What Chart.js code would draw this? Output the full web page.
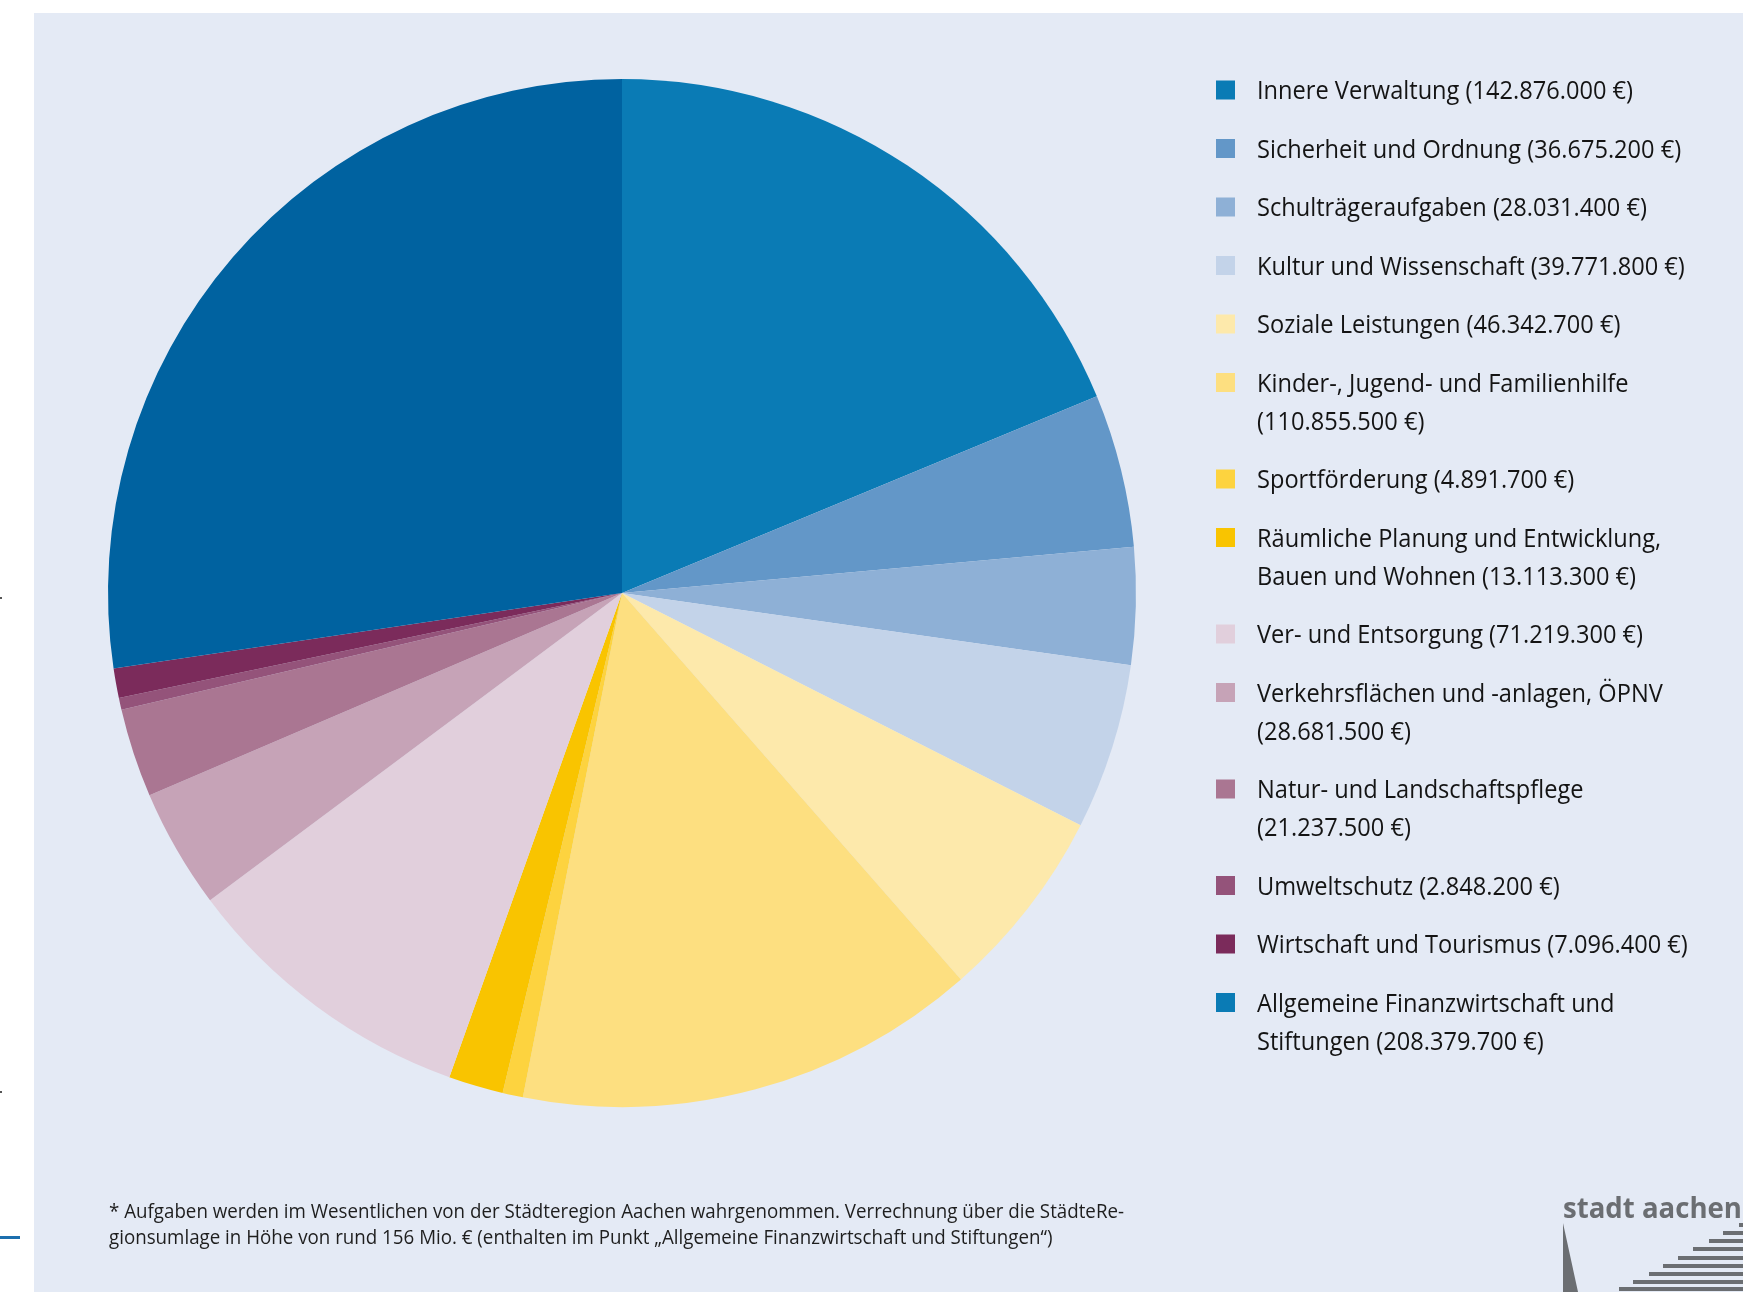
<!DOCTYPE html>
<html>
<head>
<meta charset="utf-8">
<style>
  html, body { margin: 0; padding: 0; background: #ffffff; }
  #wrap { width: 1763px; height: 1292px; }
</style>
</head>
<body>
<div id="wrap"><canvas id="budgetPie" width="1763" height="1292"></canvas></div>
<script src="https://cdn.jsdelivr.net/npm/chart.js@4.4.0/dist/chart.umd.min.js"></script>
<script>
  // chart data
  const categories = [
    ["Innere Verwaltung"],
    ["Sicherheit und Ordnung"],
    ["Schulträgeraufgaben"],
    ["Kultur und Wissenschaft"],
    ["Soziale Leistungen"],
    ["Kinder-, Jugend- und Familienhilfe", ""],
    ["Sportförderung"],
    ["Räumliche Planung und Entwicklung,", "Bauen und Wohnen"],
    ["Ver- und Entsorgung"],
    ["Verkehrsflächen und -anlagen, ÖPNV", ""],
    ["Natur- und Landschaftspflege", ""],
    ["Umweltschutz"],
    ["Wirtschaft und Tourismus"],
    ["Allgemeine Finanzwirtschaft und", "Stiftungen"],
  ];
  const amounts = [
    142876000, 36675200, 28031400, 39771800, 46342700, 110855500, 4891700,
    13113300, 71219300, 28681500, 21237500, 2848200, 7096400, 208379700,
  ];

  // colours
  const sliceColors = [
    "#0a7bb5", "#6397c8", "#8eb0d6", "#c3d3e9", "#fde9ab", "#fddf80", "#fdd33f",
    "#f9c400", "#e1cfdc", "#c6a3b7", "#aa7692", "#94537a", "#7b2b5b", "#0062a0",
  ];
  const legendColors = sliceColors.slice(0, 13).concat(["#0a7bb5"]);

  const footnote = [
    "* Aufgaben werden im Wesentlichen von der Städteregion Aachen wahrgenommen. Verrechnung über die StädteRe-",
    "gionsumlage in Höhe von rund 156 Mio. € (enthalten im Punkt „Allgemeine Finanzwirtschaft und Stiftungen“)",
  ];

  const panelColor = "#e4eaf5";
  const textFont = "'Open Sans', 'Noto Sans', sans-serif";

  function euro(n) {
    return "(" + String(n).replace(/\B(?=(\d{3})+(?!\d))/g, ".") + " €)";
  }

  function legendLines(i) {
    let lines = categories[i].slice();
    let last = lines.length - 1;
    lines[last] = (lines[last] ? lines[last] + " " : "") + euro(amounts[i]);
    return lines;
  }

  // draw text squeezed to look like the condensed house font
  function fitText(ctx, txt, x, y, sx) {
    ctx.save();
    ctx.translate(x, y);
    ctx.scale(sx, 1);
    ctx.fillText(txt, 0, 0);
    ctx.restore();
  }

  const backdrop = {
    id: "backdrop",
    beforeDraw(chart) {
      const ctx = chart.ctx;
      ctx.save();
      ctx.fillStyle = "#ffffff";
      ctx.fillRect(0, 0, chart.width, chart.height);
      ctx.fillStyle = panelColor;
      ctx.fillRect(34, 13, 1709, 1279);
      // page bits left of the panel
      ctx.fillStyle = "#1d6fae";
      ctx.fillRect(0, 1236, 20, 3);
      ctx.fillStyle = "#555";
      ctx.fillRect(0, 597, 2, 2);
      ctx.fillRect(0, 1091, 2, 2);
      ctx.restore();
    },
    afterDraw(chart) {
      const ctx = chart.ctx;
      ctx.save();

      // legend
      ctx.font = "25.5px " + textFont;
      ctx.textBaseline = "middle";
      const sx = 376 / ctx.measureText(legendLines(0)[0]).width;
      let y = 90;
      for (let i = 0; i < categories.length; i++) {
        const lines = legendLines(i);
        ctx.fillStyle = legendColors[i];
        ctx.fillRect(1216, y - 9.5, 19, 19);
        ctx.fillStyle = "#141414";
        lines.forEach((ln, k) => fitText(ctx, ln, 1257, y + 2 + k * 38, sx));
        y += 58.5 + 38 * (lines.length - 1);
      }

      // footnote
      ctx.font = "20px " + textFont;
      ctx.fillStyle = "#1e1e1e";
      const fx = 1015 / ctx.measureText(footnote[0]).width;
      fitText(ctx, footnote[0], 109, 1212, fx);
      fitText(ctx, footnote[1], 109, 1238, fx);

      // logo
      ctx.fillStyle = "#6b6e72";
      ctx.font = "bold 29px " + textFont;
      ctx.textBaseline = "alphabetic";
      const lx = 179 / ctx.measureText("stadt aachen").width;
      fitText(ctx, "stadt aachen", 1563, 1218, lx);
      ctx.beginPath();
      ctx.moveTo(1563, 1223);
      ctx.lineTo(1578, 1292);
      ctx.lineTo(1563, 1292);
      ctx.closePath();
      ctx.fill();
      const stripes = [[1223, 1739], [1231, 1723], [1239, 1709], [1247, 1693], [1256, 1678],
                       [1264, 1663], [1272, 1649], [1280, 1633], [1287, 1619]];
      stripes.forEach(s => ctx.fillRect(s[1], s[0], 1743 - s[1], 4));

      ctx.restore();
    },
  };

  const ctx = document.getElementById("budgetPie").getContext("2d");
  new Chart(ctx, {
    type: "pie",
    data: {
      labels: categories.map(c => c.filter(Boolean).join(" ")),
      datasets: [{
        data: amounts,
        backgroundColor: sliceColors,
        borderWidth: 0,
        hoverOffset: 0,
      }],
    },
    options: {
      responsive: false,
      devicePixelRatio: 1,
      animation: false,
      layout: { padding: { left: 108, top: 79, right: 627, bottom: 185 } },
      plugins: {
        legend: { display: false },
        tooltip: { enabled: false },
      },
    },
    plugins: [backdrop],
  });
</script>
</body>
</html>
